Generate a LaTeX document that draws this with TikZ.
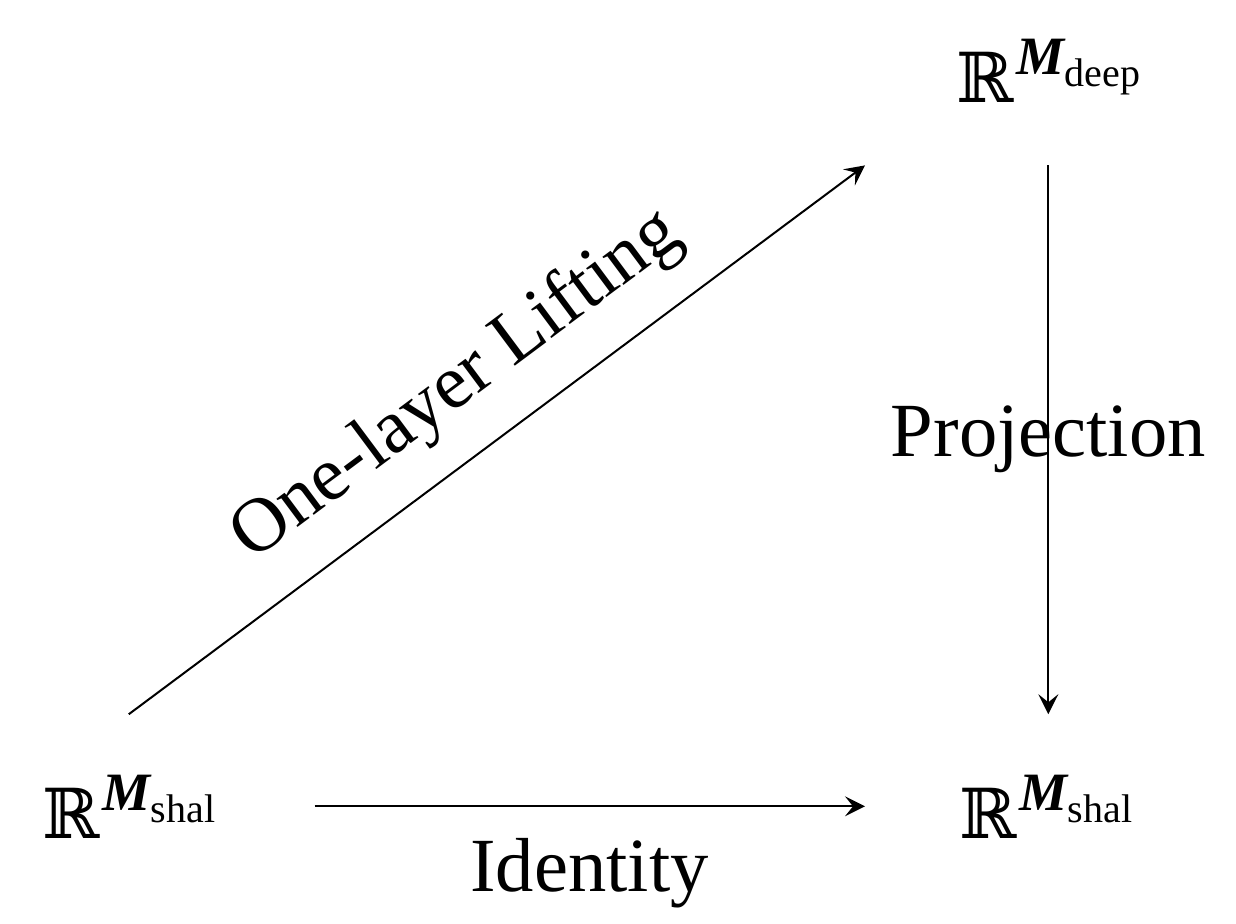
\documentclass[tikz,border=0pt]{standalone}
\usepackage{fontspec}
\setmainfont{Liberation Serif}
\newfontfamily\dsfont{DejaVu Serif}
\usetikzlibrary{arrows.meta}
\newcommand{\RM}[1]{{\dsfont\fontsize{34.5}{40}\selectfont ℝ}\kern1.5pt%
  \raisebox{14pt}{\fontsize{27}{30}\selectfont\bfseries\itshape M}%
  \raisebox{8pt}{\fontsize{20}{24}\selectfont #1}}

\begin{document}
\begin{tikzpicture}[x=0.5pt, y=-0.5pt,
  space/.style={inner sep=0pt, anchor=base west},
  maplabel/.style={font=\fontsize{38.3}{46}\selectfont},
  arr/.style={-{Stealth[length=10pt,width=10pt,inset=4pt]}, line width=1pt},
]
\useasboundingbox (0,0) rectangle (1236,924);

% Spaces
\node[space] (shalL) at (42,838)  {\RM{shal}};
\node[space] (deep)  at (956,103) {\RM{deep}};
\node[space] (shalR) at (959,838) {\RM{shal}};

% Maps
\draw[arr] ([yshift=30pt]shalL.north) -- ([xshift=-45.5pt,yshift=-31pt]deep.south west)
  node[maplabel, midway, sloped, above=12pt] {One-layer Lifting};
\draw[arr, shorten <=31pt, shorten >=30pt] (deep.south) -- (deep.south |- shalR.north)
  node[maplabel, midway] {Projection};
\draw[arr, shorten <=49.5pt, shorten >=47pt] (shalL.east) -- (shalR.west)
  node[maplabel, pos=0.503, below=12pt] {Identity};
\end{tikzpicture}
\end{document}
